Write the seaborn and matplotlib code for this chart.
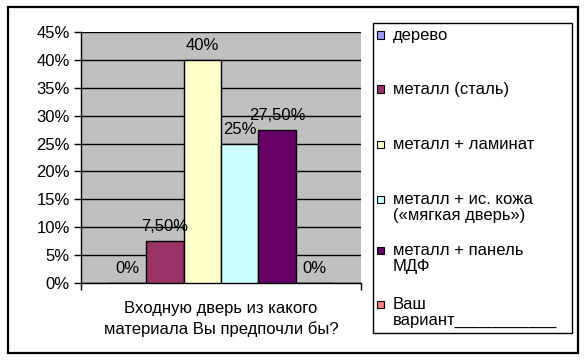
import matplotlib
matplotlib.use("Agg")
import matplotlib.pyplot as plt
import seaborn as sns
from matplotlib.patches import Rectangle
from matplotlib.ticker import FuncFormatter

# ---- data ----
group = "Входную дверь из какого\nматериала Вы предпочли бы?"
categories = ["дерево", "металл (сталь)", "металл + ламинат",
              "металл + ис. кожа\n(«мягкая дверь»)", "металл + панель\nМДФ",
              "Ваш\nвариант___________"]
values = [0.0, 0.075, 0.40, 0.25, 0.275, 0.0]
value_labels = ["0%", "7,50%", "40%", "25%", "27,50%", "0%"]
colors = ["#9999FF", "#993366", "#FFFFCC", "#CCFFFF", "#660066", "#FF8080"]
yticks = [0, 0.05, 0.10, 0.15, 0.20, 0.25, 0.30, 0.35, 0.40, 0.45]

sns.set_style("white")
plt.rcParams["font.family"] = ["Liberation Sans", "DejaVu Sans"]
FS = 12

W, H = 588, 361
fig = plt.figure(figsize=(W / 100, H / 100), dpi=100)
ax = fig.add_axes([81 / W, (H - 283) / H, 280 / W, 251 / H])

sns.barplot(x=[group] * len(values), y=values, hue=categories,
            hue_order=categories, palette=colors, width=0.8, gap=0,
            edgecolor="black", linewidth=1, legend=False, ax=ax,
            saturation=1, zorder=3)

for cont, lbl in zip(ax.containers, value_labels):
    ax.bar_label(cont, labels=[lbl], padding=5, fontsize=FS, color="black")

ax.set_facecolor("#C0C0C0")
ax.set_ylim(0, 0.45)
ax.set_xlim(-0.5, 0.5)
ax.set_yticks(yticks)
ax.yaxis.set_major_formatter(FuncFormatter(lambda v, p: f"{round(v * 100)}%"))
ax.set_xticks([-0.5, 0.5])
ax.set_xticklabels(["", ""])
ax.tick_params(axis="both", direction="out", length=5, width=1, color="black",
               labelsize=FS, labelcolor="black", left=True, bottom=True, pad=3)
ax.grid(axis="y", color="black", linewidth=1, zorder=1)
ax.set_axisbelow(True)
for s in ["top", "right"]:
    ax.spines[s].set_visible(False)
for s in ["left", "bottom"]:
    ax.spines[s].set_color("black")
    ax.spines[s].set_linewidth(1)
ax.set_ylabel("")
ax.set_xlabel(group, fontsize=FS, color="black", labelpad=5, linespacing=1.4)

# ---- legend box (manual, first-line aligned handles) ----
def px(x, y):
    return x / W, (H - y) / H

lx0, ly0, lx1, ly1 = 373, 23, 572, 333
fig.add_artist(Rectangle(px(lx0, ly1), (lx1 - lx0) / W, (ly1 - ly0) / H,
                         transform=fig.transFigure, fill=False,
                         edgecolor="black", linewidth=1))
centers = [35, 89, 144, 199, 250, 304]
for cat, col, cy in zip(categories, colors, centers):
    fig.add_artist(Rectangle(px(377, cy + 3.5), 7 / W, 7 / H,
                             transform=fig.transFigure, facecolor=col,
                             edgecolor="black", linewidth=0.8))
    fig.text(*px(393, cy - 7), cat, fontsize=FS, va="top", ha="left",
             linespacing=1.1, color="black")

# ---- outer chart border ----
fig.add_artist(Rectangle(px(8, 353), 570 / W, 346 / H,
                         transform=fig.transFigure, fill=False,
                         edgecolor="black", linewidth=1.6))

fig.savefig("out.png", dpi=100, facecolor="white")
